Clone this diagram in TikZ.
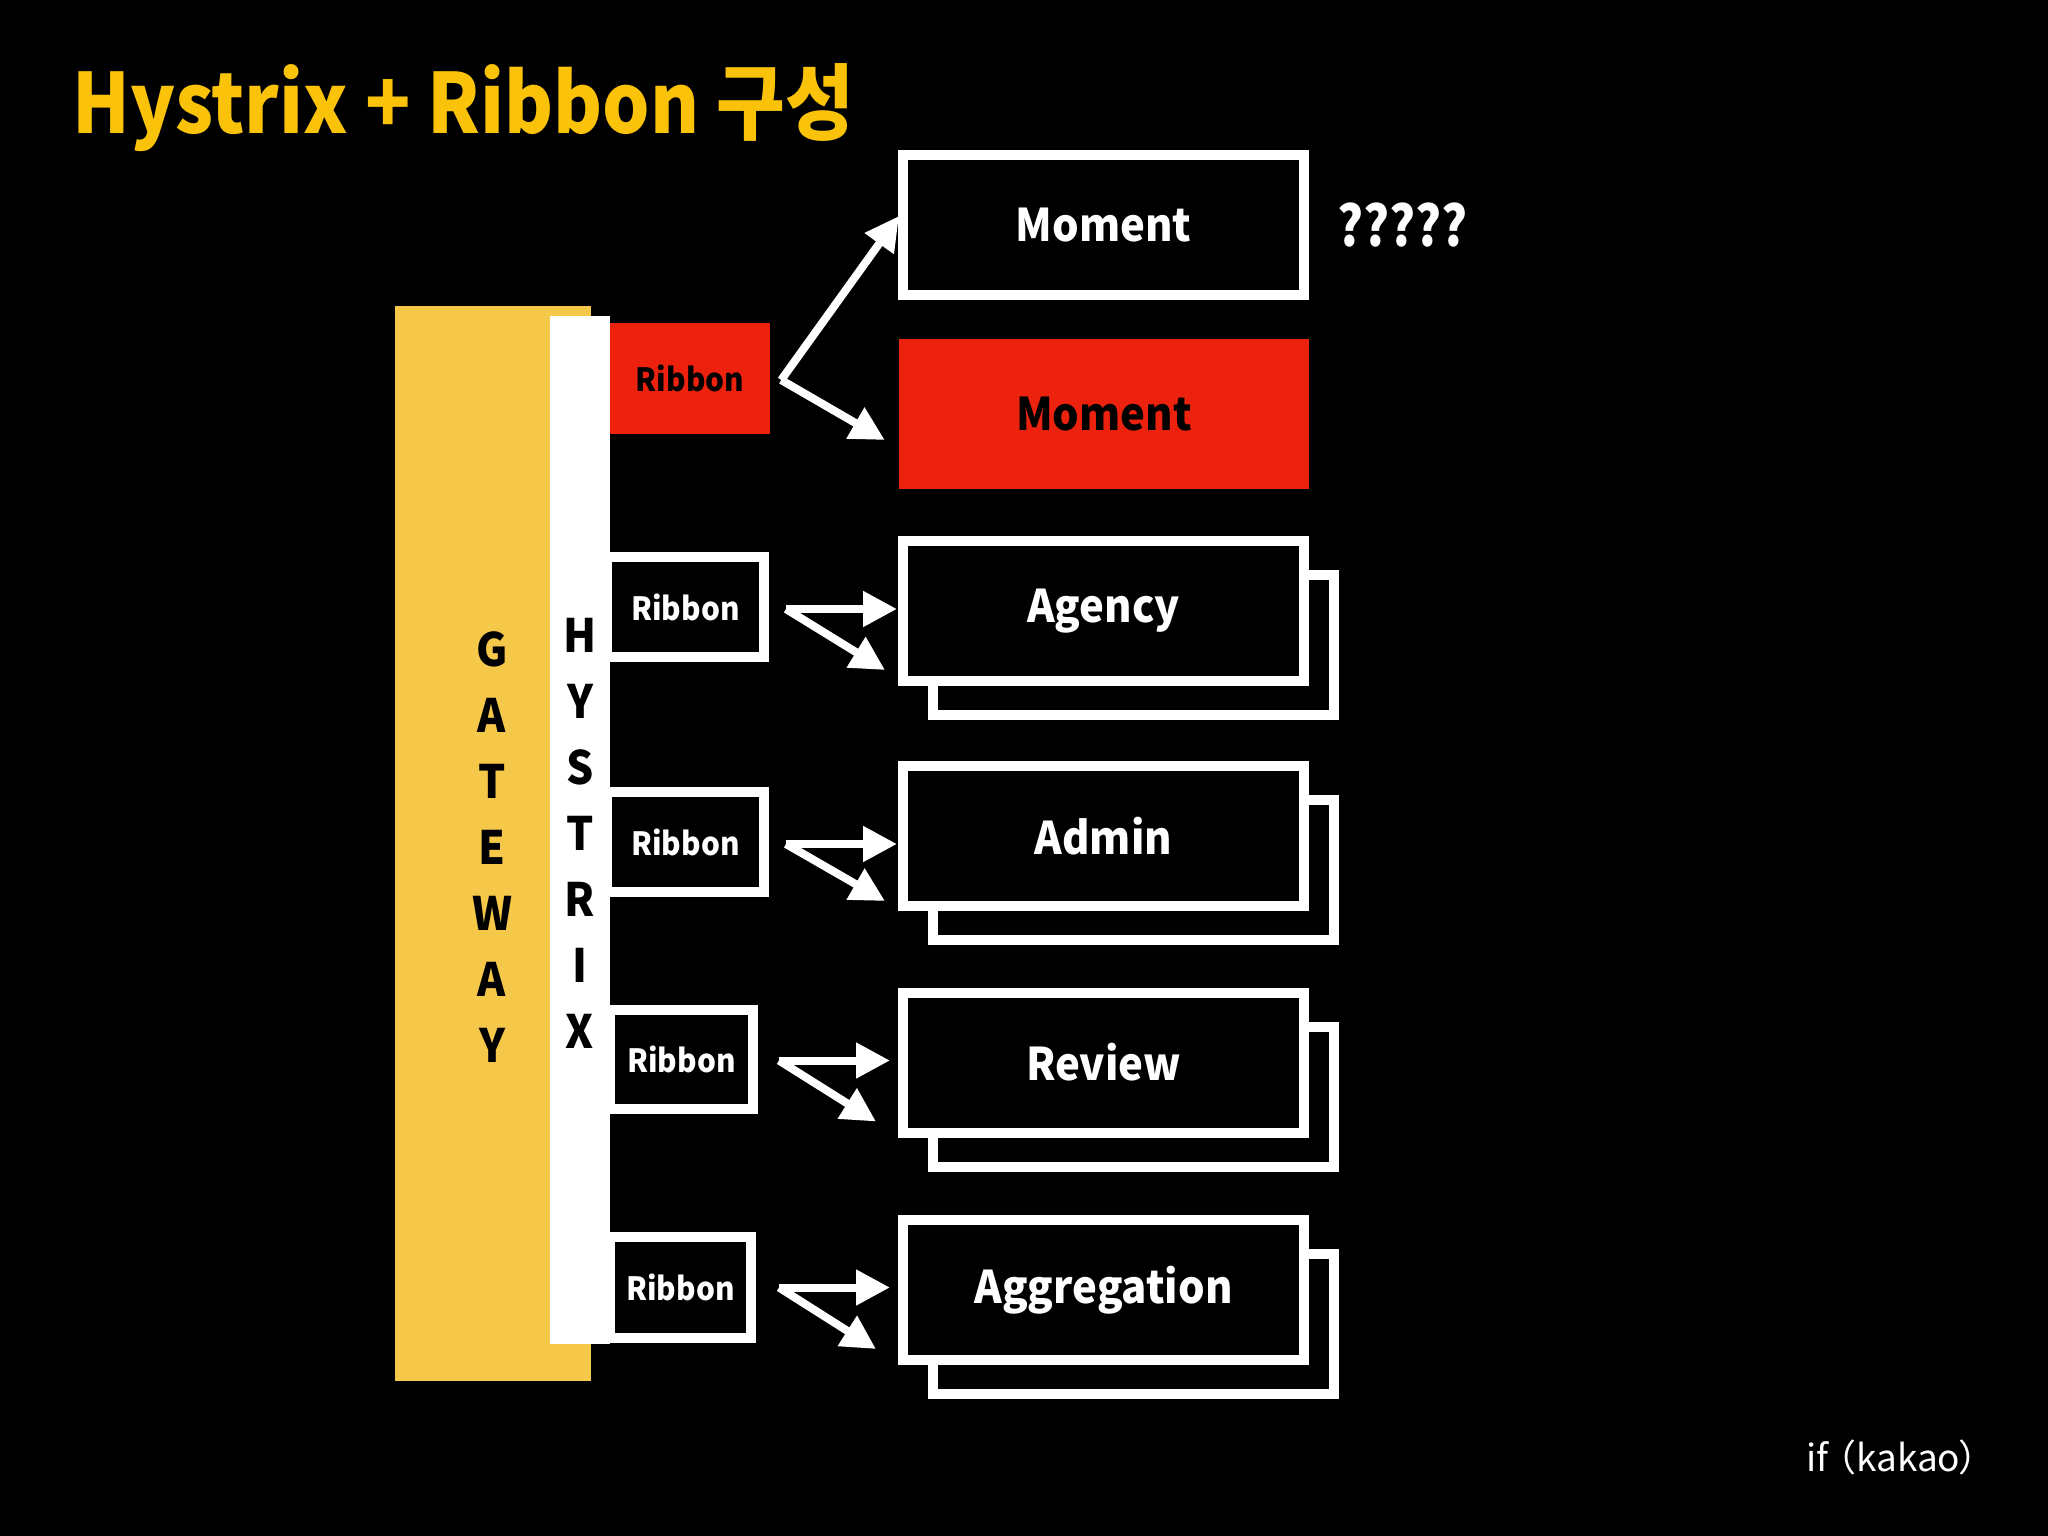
\documentclass[tikz,border=0pt]{standalone}
\usepackage{fontspec}
\newfontfamily\cjk{Noto Sans CJK KR}
\newfontfamily\cjkn[FakeStretch=0.9]{Noto Sans CJK KR}
\newfontfamily\cjkq[FakeStretch=0.87]{Noto Sans CJK KR}
\newfontfamily\cjkr[FakeStretch=0.93]{Noto Sans CJK KR}
\usetikzlibrary{arrows.meta}
\definecolor{titley}{RGB}{250,195,10}
\definecolor{gwy}{RGB}{246,200,74}
\definecolor{rred}{RGB}{236,34,14}
\begin{document}
\begin{tikzpicture}[x=1pt,y=-1pt,
  svc/.style={draw=white, line width=10pt, fill=black, minimum width=401pt, minimum height=140pt, inner sep=0pt, text=white, font=\cjkr\bfseries\fontsize{45}{54}\selectfont},
  svcback/.style={draw=white, line width=10pt, fill=black, minimum width=401pt, minimum height=140pt, inner sep=0pt},
  rib/.style={draw=white, line width=10pt, fill=black, minimum height=100pt, inner sep=0pt, text=white, font=\cjkr\bfseries\fontsize{32}{40}\selectfont},
  arr/.style={draw=white, line width=8pt, -{Triangle[length=34pt,width=34pt]}},
  vert/.style={inner sep=0pt, align=center, text=black, font=\cjkr\bfseries\fontsize{46}{66}\selectfont},
]
\fill[black] (0,0) rectangle (2048,1536);
\useasboundingbox (0,0) rectangle (2048,1536);

% title
\node[anchor=base west, inner sep=0pt, text=titley, font=\cjkn\bfseries\fontsize{83}{90}\selectfont] (title) at (72,134) {Hystrix + Ribbon 구성};

% gateway and hystrix bars
\node[fill=gwy, minimum width=196pt, minimum height=1075pt, inner sep=0pt] (gw) at (493,843.5) {};
\node[fill=white, minimum width=60pt, minimum height=1028pt, inner sep=0pt] (hx) at (580,830) {};
\node[vert] (gwtext) at (492,847) {G\\A\\T\\E\\W\\A\\Y};
\node[vert] (hxtext) at (580,833) {H\\Y\\S\\T\\R\\I\\X};

% ribbons
\node[fill=rred, minimum width=160pt, minimum height=111pt, inner sep=0pt, text=black, font=\cjkr\bfseries\fontsize{32}{40}\selectfont] (r1) at (690,378) {Ribbon};
\node[rib, minimum width=157pt] (r2) at (685.5,607) {Ribbon};
\node[rib, minimum width=157pt] (r3) at (685.5,842) {Ribbon};
\node[rib, minimum width=143pt, minimum height=99pt] (r4) at (681.5,1059.5) {Ribbon};
\node[rib, minimum width=141pt, minimum height=101pt] (r5) at (680.5,1287.5) {Ribbon};

% services
\node[svc] (mw) at (1103.5,225) {Moment};
\node[fill=rred, minimum width=410pt, minimum height=150pt, inner sep=0pt, text=black, font=\cjkr\bfseries\fontsize{45}{54}\selectfont] (mr) at (1104,414) {Moment};
\node[anchor=west, inner sep=0pt, text=white, font=\cjkq\bfseries\fontsize{56}{60}\selectfont] (q) at (1337,225) {?????};

\node[svcback] (agb) at (1133.5,645) {};
\node[svc] (ag) at (1103.5,611) {Agency};
\node[svcback] (adb) at (1133.5,870) {};
\node[svc] (ad) at (1103.5,836) {Admin};
\node[svcback] (rvb) at (1133.5,1096.5) {};
\node[svc] (rv) at (1103.5,1062.5) {Review};
\node[svcback] (agrb) at (1133.5,1324) {};
\node[svc] (agr) at (1103.5,1290) {Aggregation};

% arrow start points
\coordinate (s1) at ([xshift=11pt,yshift=-2pt]r1.east);
\coordinate (s2) at ([xshift=17pt,yshift=-2pt]r2.east);
\coordinate (s3) at ([xshift=17pt,yshift=-2pt]r3.east);
\coordinate (s4) at ([xshift=21pt,yshift=-1pt]r4.east);
\coordinate (s5) at ([xshift=23pt]r5.east);

% arrows
\draw[arr] (s1) -- ([xshift=1pt,yshift=9pt]mw.west);
\draw[arr] (s1) -- ([xshift=-14pt,yshift=-26pt]mr.west);

\draw[arr, shorten >=1pt] (s2) -- (s2 -| ag.west);
\draw[arr] (s2) -- ([xshift=-13pt,yshift=16pt]ag.south west);
\draw[arr, shorten >=1pt] (s3) -- (s3 -| ad.west);
\draw[arr] (s3) -- ([xshift=-13pt,yshift=10pt]ad.south west);
\draw[arr, shorten >=8pt] (s4) -- (s4 -| rv.west);
\draw[arr] (s4) -- ([xshift=-22pt,yshift=16pt]rv.south west);
\draw[arr, shorten >=8pt] (s5) -- (s5 -| agr.west);
\draw[arr] (s5) -- ([xshift=-22pt,yshift=16pt]agr.south west);

% footer
\node[anchor=base west, inner sep=0pt, text=white, font=\cjk\fontsize{37}{40}\selectfont] (brand) at (1806,1471) {if\kern-0.25em（kakao\kern-0.05em）};
\end{tikzpicture}
\end{document}
